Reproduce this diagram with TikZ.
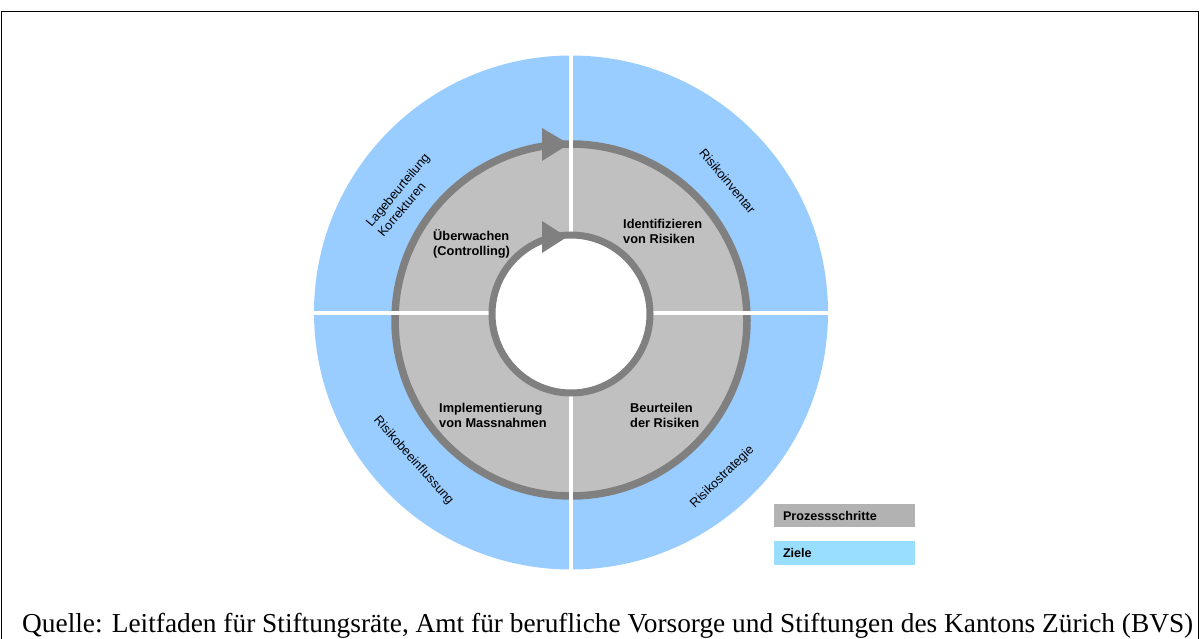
\documentclass[tikz,border=0pt]{standalone}
\usepackage{fontspec}
\setmainfont{Liberation Serif}
\newfontfamily\arialfont{Liberation Sans}
\definecolor{goalblue}{HTML}{99CCFF}
\definecolor{stepgray}{HTML}{C0C0C0}
\definecolor{ringgray}{HTML}{808080}
\definecolor{legendgray}{HTML}{B2B2B2}
\definecolor{legendblue}{HTML}{99DDFF}
\begin{document}
\begin{tikzpicture}[x=1pt,y=-1pt,
  steplabel/.style={font=\arialfont\bfseries\fontsize{12.8}{15}\selectfont, align=left, inner sep=0pt},
  goallabel/.style={font=\arialfont\fontsize{12.7}{15.6}\selectfont, align=left, inner sep=0pt},
  divider/.style={white, line width=3.5pt},
  legendbox/.style={minimum width=141pt, minimum height=23.5pt, text width=123pt,
    inner xsep=9pt, inner ysep=0pt, align=left,
    font=\arialfont\bfseries\fontsize{12.6}{14}\selectfont},
  frameline/.style={black, line width=1pt}
]
\useasboundingbox (0,0) rectangle (1200,639);

% frame around figure and source line
\draw[frameline] (1.5,639) -- (1.5,12) -- (1198.5,12) -- (1198.5,639);

% centres of the rings
\coordinate (c) at (571,312.5);
\coordinate (cg) at (571,320);
\coordinate (ci) at (571,314);

% outer goal ring
\fill[goalblue] (c) circle[radius=257pt];
% process ring
\filldraw[fill=stepgray, draw=ringgray, line width=7.5pt] (cg) circle[radius=176pt];

% quadrant dividers
\draw[divider] (314,313) -- (828,313);
\draw[divider] (571,55) -- (571,570);

% inner circle
\filldraw[fill=white, draw=ringgray, line width=7pt] (ci) circle[radius=79pt];

% arrowheads showing the cycle direction
\fill[ringgray] (542,128) -- (542,161) -- (569,144) -- cycle;
\fill[ringgray] (542,221) -- (542,253) -- (567,237) -- cycle;

% process steps
\node[steplabel, anchor=west] (s1) at (433,243.6) {Überwachen\\(Controlling)};
\node[steplabel, anchor=west] (s2) at (623,231.6) {Identifizieren\\von Risiken};
\node[steplabel, anchor=west] (s3) at (630,415.5) {Beurteilen\\der Risiken};
\node[steplabel, anchor=west] (s4) at (439,415.5) {Implementierung\\von Massnahmen};

% goals
\node[goallabel, rotate=50] (g1) at (403.5,195) {Lagebeurteilung\\Korrekturen};
\node[goallabel, rotate=-50.5] (g2) at (727.6,181) {Risikoinventar};
\node[goallabel, rotate=44.2] (g3) at (722.4,477) {Risikostrategie};
\node[goallabel, rotate=-48.2] (g4) at (413.5,460.7) {Risikobeeinflussung};

% legend
\node[legendbox, fill=legendgray] (l1) at (844.5,515.5) {Prozessschritte};
\node[legendbox, fill=legendblue] (l2) at (844.5,553) {Ziele};

% source line
\node[anchor=base west, inner sep=0pt] (src) at (22,632)
  {\resizebox{1171pt}{!}{Quelle: Leitfaden für Stiftungsräte, Amt für berufliche Vorsorge und Stiftungen des Kantons Zürich (BVS)}};
\end{tikzpicture}
\end{document}
